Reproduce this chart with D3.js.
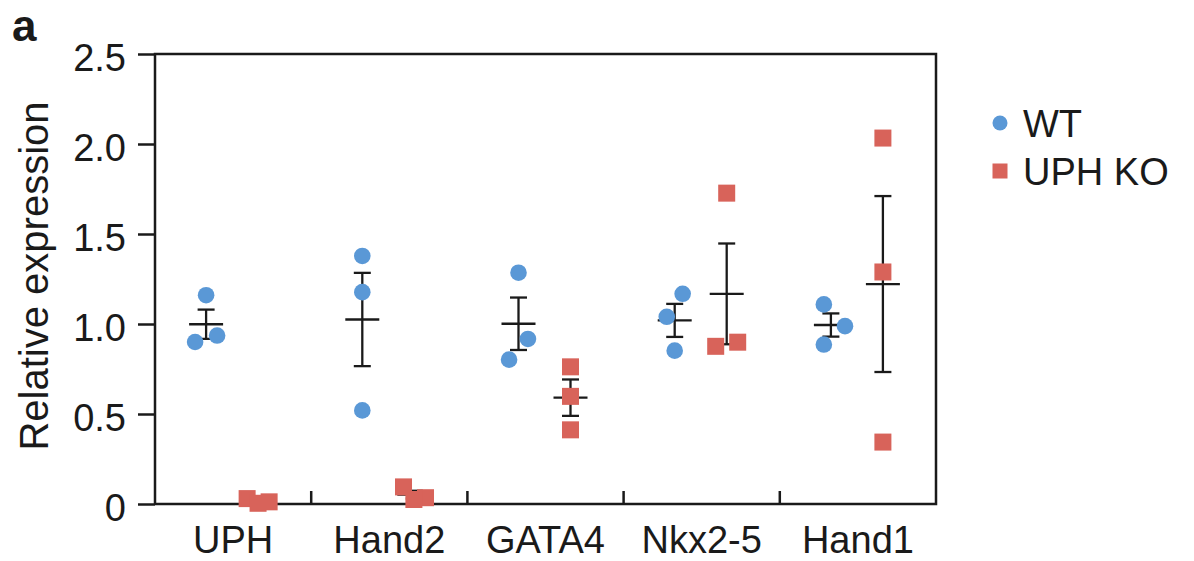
<!DOCTYPE html>
<html>
<head>
<meta charset="utf-8">
<script src="https://cdn.jsdelivr.net/npm/d3@7"></script>
<style>
  html, body { margin: 0; padding: 0; background: #fff; }
  svg { display: block; }
  text { font-family: "Liberation Sans", Arial, Helvetica, sans-serif; fill: #1a1a1a; }
</style>
</head>
<body>
<svg id="chart" width="1194" height="561"></svg>
<script>
// ---- data ----
const categories = ["UPH", "Hand2", "GATA4", "Nkx2-5", "Hand1"];
const seriesNames = ["WT", "UPH KO"];
const wtValues = [
  [1.16, 0.90, 0.936],
  [1.378, 1.177, 0.52],
  [1.285, 0.917, 0.802],
  [1.168, 1.04, 0.852],
  [1.109, 0.988, 0.886]
];
const koValues = [
  [0.03, 0.012, 0.004],
  [0.095, 0.035, 0.025],
  [0.762, 0.598, 0.412],
  [0.876, 0.899, 1.727],
  [2.033, 1.289, 0.344]
];
const yTicks = [0, 0.5, 1.0, 1.5, 2.0, 2.5];
const yTickLabels = ["0", "0.5", "1.0", "1.5", "2.0", "2.5"];

// ---- layout ----
const W = 1194, H = 561;
const M = { left: 155, right: 936, top: 54, bottom: 504 };
const colors = { "WT": "#5a98d6", "UPH KO": "#d8635a" };
const ink = "#1a1a1a";
const lw = 2.5;
const fs = 38;

const svg = d3.select("#chart");

const x = d3.scaleBand().domain(categories).range([M.left, M.right]);
const sub = d3.scalePoint().domain(seriesNames).range([-27, 25]);
const y = d3.scaleLinear().domain([0, 2.5]).range([M.bottom, M.top]);

// beeswarm-like layout to avoid overlapping markers
function swarm(vals, D, maxSpread) {
  const order = vals.map((v, i) => i).sort((a, b) => vals[a] - vals[b]);
  const placed = [];
  const off = new Array(vals.length).fill(0);
  for (const i of order) {
    const yi = y(vals[i]);
    const near = placed.filter(p => Math.abs(p.y - yi) < D);
    const cands = [0];
    near.forEach(p => {
      const dx = Math.sqrt(D * D - (p.y - yi) ** 2);
      cands.push(p.x + dx, p.x - dx);
    });
    cands.sort((a, b) => Math.abs(a) - Math.abs(b) || b - a);
    const cx = cands.find(c => near.every(p => (p.x - c) ** 2 + (p.y - yi) ** 2 >= D * D - 1e-6));
    placed.push({ i, x: cx, y: yi });
    off[i] = cx;
  }
  // clusters of vertically close points
  const byY = placed.slice().sort((a, b) => a.y - b.y);
  const clusters = [];
  byY.forEach((p, k) => {
    if (k === 0 || p.y - byY[k - 1].y >= D) clusters.push([p]);
    else clusters[clusters.length - 1].push(p);
  });
  clusters.forEach(cl => {
    if (cl.length < 2) return;
    const m = d3.mean(cl, p => p.x);
    const ext = d3.extent(cl, p => p.x);
    const spread = ext[1] - ext[0];
    const k = spread > maxSpread ? maxSpread / spread : 1;
    cl.forEach(p => { off[p.i] = (p.x - m) * k; });
  });
  return off;
}

// ---- panel label ----
svg.append("text").attr("x", 12).attr("y", 41)
  .style("font-size", "44px").style("font-weight", "bold").text("a");

// ---- axes ----
const yAxis = d3.axisLeft(y).tickValues(yTicks)
  .tickFormat((d, i) => yTickLabels[i]).tickSize(17).tickPadding(12);
const gy = svg.append("g").attr("transform", `translate(${M.left},0)`).call(yAxis);
gy.select(".domain").remove();
gy.selectAll(".tick line").attr("stroke", ink).attr("stroke-width", lw);
gy.selectAll(".tick text").attr("dy", "0.44em").style("font-size", fs + "px")
  .attr("fill", ink).style("font-family", '"Liberation Sans", Arial, sans-serif');

const xAxis = d3.axisBottom(x).tickSize(0).tickPadding(22);
const gx = svg.append("g").attr("transform", `translate(0,${M.bottom})`).call(xAxis);
gx.select(".domain").remove();
gx.selectAll(".tick text").style("font-size", fs + "px").attr("fill", ink)
  .style("font-family", '"Liberation Sans", Arial, sans-serif');

// box
svg.append("path")
  .attr("d", `M${M.left},${M.bottom}V${M.top}H${M.right}V${M.bottom}H${M.left}`)
  .attr("fill", "none").attr("stroke", ink).attr("stroke-width", lw)
  .attr("stroke-linejoin", "miter");

// inner separator ticks on x axis
svg.append("g").selectAll("line").data(categories.slice(1)).join("line")
  .attr("x1", d => x(d)).attr("x2", d => x(d))
  .attr("y1", M.bottom).attr("y2", M.bottom - 13)
  .attr("stroke", ink).attr("stroke-width", lw);

// y label
svg.append("text")
  .attr("transform", `translate(48,276) rotate(-90)`)
  .attr("text-anchor", "middle").style("font-size", "40px")
  .text("Relative expression");

// ---- groups ----
const groups = [];
categories.forEach((c, ci) => {
  [["WT", wtValues[ci]], ["UPH KO", koValues[ci]]].forEach(([s, vals]) => {
    const mean = d3.mean(vals);
    const sem = d3.deviation(vals) / Math.sqrt(vals.length);
    groups.push({ c, s, vals, mean, sem, cx: x(c) + x.bandwidth() / 2 + sub(s) });
  });
});

// error bars (mean ± SEM)
const eb = svg.append("g").attr("stroke", ink).attr("stroke-width", 2.3).attr("fill", "none");
groups.forEach(g => {
  eb.append("line").attr("x1", g.cx).attr("x2", g.cx)
    .attr("y1", y(g.mean + g.sem)).attr("y2", y(g.mean - g.sem));
  eb.append("line").attr("x1", g.cx - 17).attr("x2", g.cx + 17)
    .attr("y1", y(g.mean)).attr("y2", y(g.mean));
  [g.mean + g.sem, g.mean - g.sem].forEach(v => {
    eb.append("line").attr("x1", g.cx - 8.5).attr("x2", g.cx + 8.5)
      .attr("y1", y(v)).attr("y2", y(v));
  });
});

// points
const pts = svg.append("g");
groups.forEach(g => {
  const off = swarm(g.vals, 28, 22);
  g.vals.forEach((v, i) => {
    const px = g.cx + off[i], py = y(v);
    if (g.s === "WT") {
      pts.append("circle").attr("cx", px).attr("cy", py).attr("r", 8.3)
        .attr("fill", colors[g.s]);
    } else {
      pts.append("rect").attr("x", px - 8.5).attr("y", py - 8.5)
        .attr("width", 17).attr("height", 17).attr("fill", colors[g.s]);
    }
  });
});

// ---- legend ----
const lg = svg.append("g");
seriesNames.forEach((s, i) => {
  const ly = 123 + i * 48;
  if (s === "WT") {
    lg.append("circle").attr("cx", 1000).attr("cy", ly).attr("r", 7.5).attr("fill", colors[s]);
  } else {
    lg.append("rect").attr("x", 992.5).attr("y", ly - 7.5).attr("width", 15).attr("height", 15)
      .attr("fill", colors[s]);
  }
  lg.append("text").attr("x", 1023).attr("y", ly).attr("dy", "0.36em")
    .style("font-size", fs + "px").text(s);
});
</script>
</body>
</html>
